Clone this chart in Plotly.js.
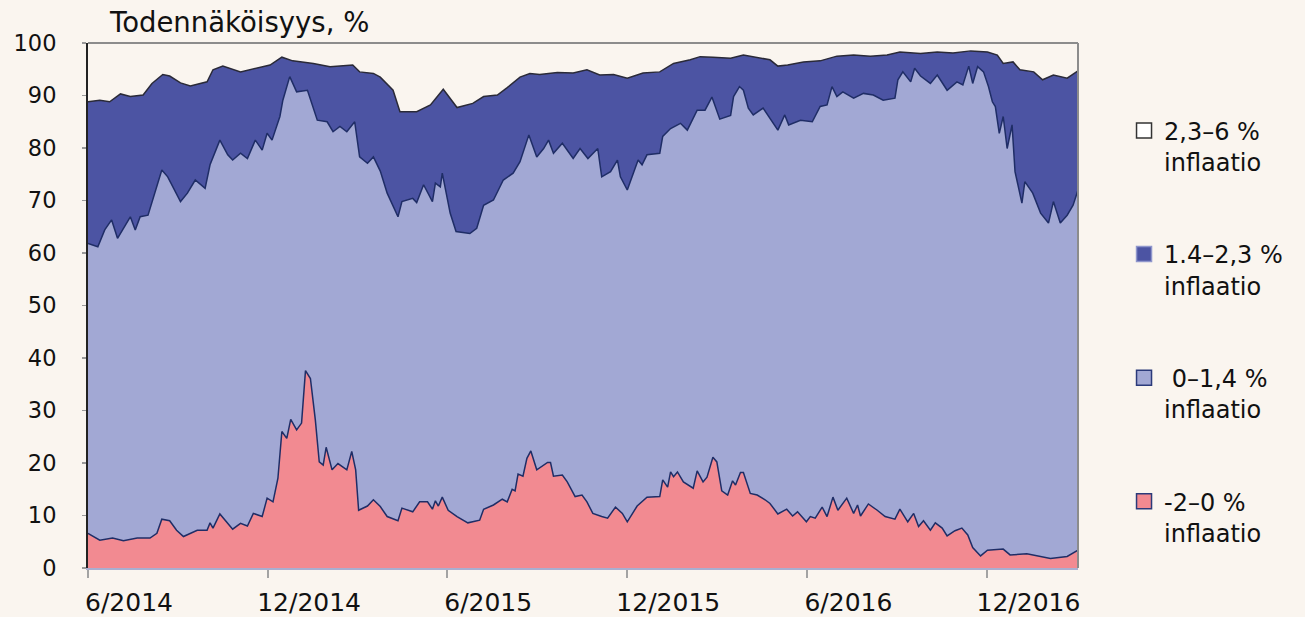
<!DOCTYPE html>
<html>
<head>
<meta charset="utf-8">
<script src="https://cdn.plot.ly/plotly-3.0.1.min.js"></script>
<style>html,body{margin:0;padding:0;background:#FAF5EF;}</style>
</head>
<body>
<div id="chart" style="width:1305px;height:617px;"></div>
<script>
// ---- data (cumulative probabilities, %) ----
const startDate = '2014-06-01';
const tickDates = ['2014-06-01','2014-12-01','2015-06-01','2015-12-01','2016-06-01','2016-12-01'];
const tickLabels = ['6/2014','12/2014','6/2015','12/2015','6/2016','12/2016'];
const legendNames = ['2,3–6 %', '1.4–2,3 %', '\u00a00–1,4 %', '-2–0 %'];
const legendSuffix = 'inflaatio';

// days since 2014-06-01 and probability that inflation < 0 %
const dayBelow0 = [0,12,25,36,50,63,70,75,83,90,97,111,121,124,127,134,147,155,162,168,
 177,182,188,193,197,202,206,212,217,221,226,231,235,239,242,248,254,263,268,272,
 275,284,290,297,304,315,319,330,337,345,350,353,356,360,366,375,386,398,402,412,
 421,426,431,434,437,442,446,450,456,461,467,470,473,482,487,495,502,507,513,522,
 528,536,543,548,558,568,581,584,589,592,595,599,605,615,619,625,629,635,639,644,
 650,655,658,663,666,673,680,688,693,701,710,716,721,730,734,739,746,751,757,762,
 771,778,782,785,793,802,810,820,825,833,839,844,849,856,861,868,873,881,888,894,
 899,907,914,930,937,954,971,978,995,1006];
const probBelow0 = [6.6,5.3,5.7,5.2,5.7,5.7,6.6,9.3,9.0,7.2,6.0,7.2,7.2,8.6,7.6,10.3,7.4,8.5,8.0,10.4,
 9.8,13.3,12.6,17.1,26.0,24.7,28.3,26.3,27.6,37.6,36.1,28.2,20.2,19.6,23.0,18.7,19.9,18.7,22.2,18.7,
 11.0,11.8,13.0,11.7,9.8,9.0,11.4,10.7,12.6,12.6,11.2,12.8,11.8,13.5,11.0,9.8,8.6,9.1,11.2,12.0,
 13.1,12.6,15.0,14.7,17.9,17.5,20.9,22.3,18.7,19.3,20.1,20.1,17.5,17.7,16.4,13.6,13.9,12.6,10.4,9.8,
 9.5,11.6,10.4,8.8,11.8,13.5,13.6,16.8,15.4,18.3,17.4,18.3,16.4,15.2,18.5,16.4,17.3,21.1,20.2,14.7,
 13.9,16.6,15.8,18.2,18.2,14.2,13.9,13.0,12.3,10.3,11.2,9.9,10.7,8.8,9.8,9.5,11.6,9.8,13.5,11.0,
 13.3,10.4,12.0,9.9,12.2,11.0,9.8,9.3,11.2,8.8,10.4,7.9,9.0,7.2,8.6,7.6,6.1,7.1,7.6,6.3,
 3.9,2.3,3.4,3.6,2.5,2.7,2.0,1.8,2.2,3.4];

// probability that inflation < 1.4 %
const dayBelow14 = [0,10,17,24,30,43,48,53,61,75,81,94,101,109,119,124,134,142,147,155,
 162,170,177,182,187,195,198,205,212,223,233,243,249,256,263,271,276,284,290,297,
 304,315,319,330,334,341,350,353,358,360,368,374,388,395,402,412,422,432,439,448,
 456,463,468,473,482,493,500,508,518,522,531,538,541,548,559,563,568,581,584,592,
 602,609,619,627,634,642,653,656,662,666,671,676,686,693,701,708,712,724,736,744,
 751,756,761,767,778,788,798,808,820,823,828,836,840,846,856,863,873,883,889,895,
 899,904,910,915,919,922,926,930,934,939,942,949,952,960,968,976,981,988,995,1001,1006];
const probBelow14 = [61.8,61.2,64.4,66.3,62.8,66.9,64.4,66.9,67.2,75.8,74.5,69.8,71.4,73.9,72.3,76.8,81.5,78.7,77.7,79.0,
 78.0,81.5,79.6,82.8,81.5,86.0,89.1,93.6,90.7,91.0,85.3,85.0,83.1,84.1,83.1,85.0,78.3,77.1,78.3,75.6,
 71.4,66.9,69.8,70.4,69.6,73.0,69.8,73.3,72.6,75.2,67.6,64.1,63.7,64.7,69.1,70.1,73.9,75.2,77.4,82.5,
 78.3,79.9,81.5,79.0,80.9,78.0,79.9,78.0,79.9,74.5,75.5,77.7,74.5,72.0,77.7,76.8,78.7,79.0,82.2,83.7,
 84.7,83.4,87.2,87.2,89.7,85.5,86.2,89.8,91.7,91.0,87.6,86.3,87.6,85.7,83.4,86.3,84.4,85.3,85.0,87.9,
 88.2,91.7,89.8,90.7,89.5,90.4,90.1,89.1,89.5,93.0,94.5,92.6,95.2,93.7,92.3,93.9,91.0,92.6,92.0,95.6,
 92.3,95.5,94.5,91.7,88.8,87.9,82.8,86.0,79.9,84.4,75.5,69.5,73.6,71.4,67.6,65.7,69.8,65.7,67.2,69.1,72.0];

// probability that inflation < 2.3 %
const dayBelow23 = [0,12,22,33,43,56,65,76,83,94,104,121,127,137,155,168,185,197,208,229,
 246,269,276,290,297,310,317,334,348,361,375,391,402,416,426,439,449,459,477,493,
 507,520,534,548,564,581,595,612,622,635,653,666,693,701,711,727,744,761,778,795,
 812,825,846,863,879,897,914,924,930,940,947,961,970,981,995,1006];
const probBelow23 = [88.8,89.1,88.8,90.3,89.8,90.1,92.3,94.0,93.7,92.4,91.8,92.6,94.9,95.6,94.5,95.0,95.8,97.3,96.6,96.1,
 95.5,95.8,94.5,94.2,93.5,91.0,86.9,86.9,88.2,91.2,87.7,88.5,89.8,90.1,91.5,93.5,94.2,94.0,94.4,94.3,
 94.9,93.9,94.0,93.3,94.3,94.5,96.1,96.8,97.4,97.3,97.1,97.7,96.8,95.6,95.8,96.4,96.6,97.5,97.7,97.5,
 97.7,98.3,98.0,98.3,98.1,98.5,98.3,97.7,96.1,96.4,94.9,94.5,93.0,93.9,93.3,94.7];

// ---- styling ----
const BG = '#FAF5EF';
const RED = '#F28A91';
const LIGHT = '#A2A8D4';
const DARK = '#4C54A3';
const NAVY = '#1F2D66';
const legendFill = ['#FFFFFF', DARK, LIGHT, RED];
const legendEdge = ['#333333', '#8F96CC', '#2B3A7A', '#2B3A7A'];

function toDate(d) {
  const t = new Date(Date.parse(startDate + 'T00:00:00Z') + d * 86400000);
  return t.toISOString().slice(0, 10);
}

const traces = [
  {x: dayBelow0.map(toDate), y: probBelow0, type: 'scatter', mode: 'lines', fill: 'tozeroy',
   fillcolor: RED, line: {color: NAVY, width: 1.5}, showlegend: false, hoverinfo: 'skip'},
  {x: dayBelow14.map(toDate), y: probBelow14, type: 'scatter', mode: 'lines', fill: 'tonexty',
   fillcolor: LIGHT, line: {color: NAVY, width: 1.5}, showlegend: false, hoverinfo: 'skip'},
  {x: dayBelow23.map(toDate), y: probBelow23, type: 'scatter', mode: 'lines', fill: 'tonexty',
   fillcolor: DARK, line: {color: '#2A2A38', width: 1.5}, showlegend: false, hoverinfo: 'skip'}
];

legendNames.forEach((name, i) => {
  traces.push({
    x: [null], y: [null], type: 'scatter', mode: 'markers',
    name: '\u00a0<br>' + name + '<br>' + legendSuffix,
    legendgroup: 'g' + i,
    marker: {symbol: 'square', size: 15, color: legendFill[i], line: {color: legendEdge[i], width: 1.5}},
    hoverinfo: 'skip'
  });
});

const layout = {
  width: 1305, height: 617,
  paper_bgcolor: BG, plot_bgcolor: BG,
  margin: {l: 88, r: 227, t: 43, b: 49, pad: 0},
  font: {family: 'DejaVu Sans', color: '#111111'},
  title: {text: 'Todennäköisyys, %', font: {size: 27.5, family: 'DejaVu Sans', color: '#111111'},
          xref: 'container', x: 0.0843, xanchor: 'left', yref: 'container', y: 0.963, yanchor: 'middle'},
  xaxis: {type: 'date', range: ['2014-06-01', '2017-03-03'], tickmode: 'array',
          tickvals: tickDates, ticktext: tickLabels,
          ticks: 'outside', ticklen: 8, tickwidth: 2, tickcolor: '#A3A3A3',
          showline: true, linecolor: '#A9AED0', linewidth: 2,
          showgrid: false, zeroline: false,
          tickfont: {size: 25, family: 'DejaVu Sans', color: '#111111'},
          ticklabelshift: 41, ticklabelstandoff: 3, fixedrange: true},
  yaxis: {range: [0, 100], tick0: 0, dtick: 10,
          ticks: 'outside', ticklen: 4, tickwidth: 1.5, tickcolor: '#999999',
          showline: true, linecolor: '#222222', linewidth: 2,
          showgrid: false, zeroline: false,
          tickfont: {size: 22.5, family: 'DejaVu Sans', color: '#111111'},
          ticklabelstandoff: 21, fixedrange: true},
  legend: {x: 1.0465, xanchor: 'left', y: 0.935, yanchor: 'top',
           font: {size: 24, family: 'DejaVu Sans', color: '#111111'},
           bgcolor: 'rgba(0,0,0,0)', tracegroupgap: 27, traceorder: 'grouped'},
  showlegend: true,
  shapes: [
    {type: 'line', xref: 'paper', yref: 'paper', x0: 0, x1: 1, y0: 1, y1: 1,
     line: {color: '#8C8C8C', width: 2}, layer: 'above'},
    {type: 'line', xref: 'paper', yref: 'paper', x0: 1, x1: 1, y0: 0, y1: 1,
     line: {color: '#8C8C8C', width: 2}, layer: 'above'}
  ]
};

Plotly.newPlot('chart', traces, layout, {displayModeBar: false, staticPlot: true});
</script>
</body>
</html>
